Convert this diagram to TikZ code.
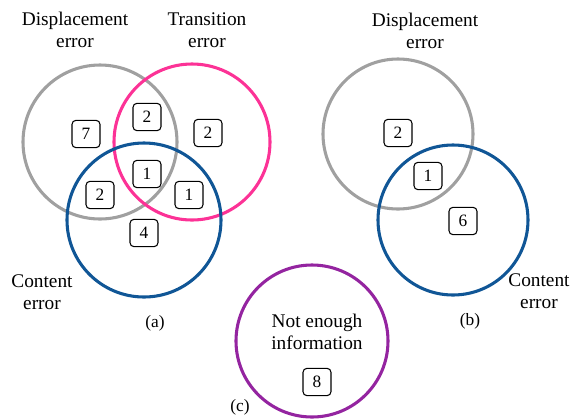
\documentclass[tikz,border=0pt]{standalone}
\usepackage{fontspec}
\setmainfont{Liberation Serif}
\definecolor{cgray}{RGB}{160,160,160}
\definecolor{cpink}{RGB}{252,50,150}
\definecolor{cblue}{RGB}{16,86,150}
\definecolor{cpurple}{RGB}{148,36,160}
\tikzset{
  venn/.style={circle, draw, line width=2.3pt, inner sep=0pt, minimum size=#1*1.5pt},
  cnt/.style={draw, rounded corners=3pt, line width=0.8pt, minimum width=21pt, minimum height=20.5pt, inner sep=0pt, font=\fontsize{13}{13}\selectfont},
  lbl/.style={align=center, font=\fontsize{14.5}{16.5}\selectfont},
  subcap/.style={font=\fontsize{13}{13}\selectfont}
}
\begin{document}
\begin{tikzpicture}[x=0.75pt,y=-0.75pt]
\useasboundingbox (0,0) rectangle (572,419);
% (a)
\node[venn=77, cgray] (aD) at (100,142) {};
\node[venn=78, cpink] (aT) at (192,142) {};
\node[venn=77, cblue] (aC) at (144,220) {};
\node[lbl] (aDl) at (75,30) {Displacement\\error};
\node[lbl] (aTl) at (207,30) {Transition\\error};
\node[lbl] (aCl) at (42,292) {Content\\error};
\node[cnt] (a7) at (86,134) {7};
\node[cnt] (a2t) at (147,117) {2};
\node[cnt] (a2r) at (208,133) {2};
\node[cnt] (a1c) at (147,174) {1};
\node[cnt] (a2l) at (100,195) {2};
\node[cnt] (a1r) at (189,195) {1};
\node[cnt] (a4) at (144,233) {4};
\node[subcap] (acap) at (155,323) {(a)};
% (b)
\node[venn=75, cgray] (bD) at (398,134) {};
\node[venn=75, cblue] (bC) at (453,220) {};
\node[lbl] (bDl) at (425,31) {Displacement\\error};
\node[lbl] (bCl) at (539,291) {Content\\error};
\node[cnt] (b2) at (398,133) {2};
\node[cnt] (b1) at (428,176) {1};
\node[cnt] (b6) at (463,221) {6};
\node[subcap] (bcap) at (470,321) {(b)};
% (c)
\node[venn=76, cpurple] (cN) at (312,341) {};
\node[lbl] (cNl) at (317,332) {Not enough\\information};
\node[cnt] (c8) at (317,382) {8};
\node[subcap] (ccap) at (240,407) {(c)};
\end{tikzpicture}
\end{document}
